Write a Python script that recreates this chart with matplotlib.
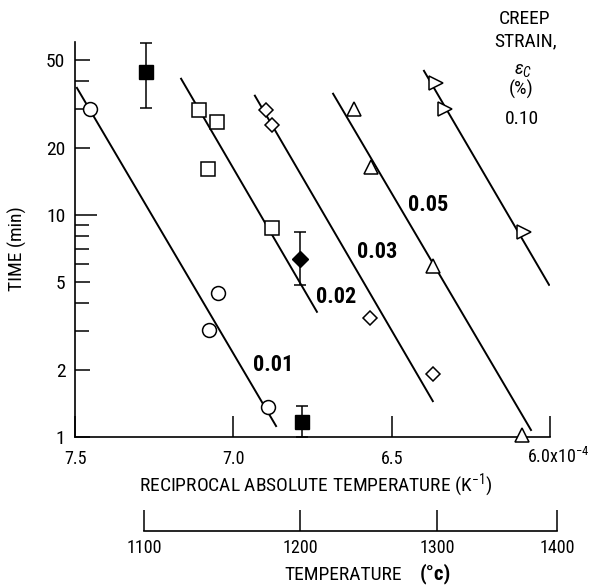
import matplotlib
matplotlib.use("Agg")
import matplotlib.pyplot as plt
import numpy as np
from matplotlib import font_manager
from matplotlib.ticker import NullFormatter, NullLocator

# creep time vs reciprocal absolute temperature (x 1e-4 K^-1), time in min
strain_labels = ["0.01", "0.02", "0.03", "0.05", "0.10"]
line_x = [[7.494, 6.865], [7.165, 6.736], [6.932, 6.370], [6.685, 6.060], [6.398, 6.003]]
line_t = [[37.3, 1.12], [41.0, 3.66], [34.4, 1.45], [35.1, 1.075], [44.5, 4.84]]

circ_x = [7.453, 7.048, 7.077, 6.891]      # 0.01 %
circ_t = [30.0, 4.45, 3.03, 1.365]
sq_x = [7.108, 7.052, 7.080, 6.878]        # 0.02 %
sq_t = [29.7, 26.2, 16.1, 8.74]
dia_x = [6.897, 6.878, 6.569, 6.370]       # 0.03 %
dia_t = [29.7, 25.4, 3.44, 1.92]
tri_x = [6.619, 6.565, 6.370, 6.089]       # 0.05 %
tri_t = [30.0, 16.5, 5.89, 1.02]
rtri_x = [6.360, 6.332, 6.082]             # 0.10 %
rtri_t = [39.3, 30.0, 8.38]

# filled symbols with scatter bands
fsq_x = [7.276, 6.783]
fsq_t = [44.1, 1.17]
fsq_lo = [30.3, 1.0]
fsq_hi = [59.5, 1.38]
fdia_x = [6.790]
fdia_t = [6.34]
fdia_lo = [4.84]
fdia_hi = [8.38]

temp_ticks = [1100, 1200, 1300, 1400]

# pick a condensed sans if there is one
avail = {f.name for f in font_manager.fontManager.ttflist}
fam = 'DejaVu Sans'
for cand in ['Roboto Condensed', 'PT Sans Narrow', 'Archivo Narrow', 'Fira Sans Condensed',
             'Barlow Semi Condensed', 'Liberation Sans Narrow', 'Liberation Sans']:
    if cand in avail:
        fam = cand
        break
plt.rcParams['font.family'] = [fam, 'DejaVu Sans']
plt.rcParams['mathtext.fontset'] = 'custom'
plt.rcParams['mathtext.rm'] = fam
plt.rcParams['mathtext.it'] = fam + ':italic'
plt.rcParams['mathtext.bf'] = fam + ':bold'

W, H = 590, 588
fig = plt.figure(figsize=(W/100, H/100), dpi=100)
ax = fig.add_axes([75/W, 151/H, 475/W, 395/H])

for xs, ts in zip(line_x, line_t):
    ax.plot(xs, ts, color='k', lw=1.4, zorder=2)

mk = dict(ls='none', mfc='white', mec='k', mew=1.1, zorder=3, clip_on=False)
ax.plot(circ_x, circ_t, marker='o', ms=10, **mk)
ax.plot(sq_x, sq_t, marker='s', ms=9.5, **mk)
ax.plot(dia_x, dia_t, marker='D', ms=7.5, **mk)
ax.plot(tri_x, tri_t, marker='^', ms=10, **mk)
ax.plot(rtri_x, rtri_t, marker='>', ms=10, **mk)

ax.errorbar(fsq_x, fsq_t, yerr=[np.subtract(fsq_t, fsq_lo), np.subtract(fsq_hi, fsq_t)],
            fmt='s', ms=10, color='k', elinewidth=1.1, capsize=4, capthick=1.1, zorder=3)
ax.errorbar(fdia_x, fdia_t, yerr=[np.subtract(fdia_t, fdia_lo), np.subtract(fdia_hi, fdia_t)],
            fmt='D', ms=8, color='k', elinewidth=1.1, capsize=4, capthick=1.1, zorder=3)

# strain labels next to lines
lab_pos = [(6.875, 2.11), (6.676, 4.27), (6.546, 6.81), (6.385, 11.1)]
for (lx, ly), s in zip(lab_pos, strain_labels[:4]):
    ax.text(lx, ly, s, fontsize=16, fontweight='bold', ha='center', va='center')

ax.set_yscale('log')
ax.set_ylim(1, 60)
ax.set_xlim(7.5, 6.0)
ax.set_yticks([1, 2, 5, 10, 20, 50])
ax.set_yticklabels(['1', '2', '5', '10', '20', '50'])
ax.set_yticks([3, 4, 6, 7, 8, 9, 30, 40], minor=True)
ax.yaxis.set_minor_formatter(NullFormatter())
ax.set_xticks([7.5, 7.0, 6.5, 6.0])
ax.set_xticklabels(['7.5', '7.0', '6.5', ''])
ax.xaxis.set_minor_locator(NullLocator())
ax.tick_params(axis='y', which='major', direction='in', length=11, width=1.1, labelsize=14, pad=7)
ax.tick_params(axis='y', which='minor', direction='in', length=10, width=1.1)
ax.tick_params(axis='x', direction='in', length=15, width=1.1, labelsize=13, pad=9)
ax.yaxis.get_major_ticks()[3].tick1line.set_markersize(16)
for sp in ['top', 'right']:
    ax.spines[sp].set_visible(False)
for sp in ['left', 'bottom']:
    ax.spines[sp].set_linewidth(1.2)

fig.text(527/W, 1-463/H, "6.0x10$^{-4}$", fontsize=13, ha='left', va='baseline')
fig.text(316/W, 1-485/H, "RECIPROCAL ABSOLUTE TEMPERATURE (K$^{-1}$)", fontsize=14,
         ha='center', va='center')
fig.text(17/W, 1-249/H, "TIME (min)", fontsize=14, rotation=90, ha='center', va='center')


# temperature scale, same 1e4/K mapping as the main axis
def to_x(c):
    return 1e4/(np.asarray(c, dtype=float) + 273.15)


x_end = 5.95
ax2 = fig.add_axes([75/W, (588-531)/H, 475/W*(7.5-x_end)/1.5, 0.001])
ax2.set_xlim(7.5, x_end)
ax2.set_ylim(0, 1)
ax2.patch.set_visible(False)
for sp in ['top', 'right', 'left']:
    ax2.spines[sp].set_visible(False)
ax2.spines['bottom'].set_bounds(to_x(temp_ticks[0]), to_x(temp_ticks[-1]))
ax2.spines['bottom'].set_linewidth(1.2)
ax2.set_yticks([])
ax2.set_xticks(to_x(temp_ticks))
ax2.set_xticklabels([str(t) for t in temp_ticks])
ax2.xaxis.set_minor_locator(NullLocator())
ax2.tick_params(axis='x', direction='in', length=15, width=1.1, labelsize=13, pad=6)

fig.text(402/W, 1-575/H, "TEMPERATURE", fontsize=14, ha='right', va='center')
fig.text(420/W, 1-574/H, "(°c)", fontsize=15, fontweight='bold', ha='left', va='center')

# strain key, top right
fig.text(525/W, 1-19/H, "CREEP", fontsize=14, ha='center', va='center')
fig.text(526/W, 1-41/H, "STRAIN,", fontsize=14, ha='center', va='center')
fig.text(523/W, 1-70/H, r"$\epsilon_C$", fontsize=14, ha='center', va='center')
fig.text(521/W, 1-89/H, "(%)", fontsize=14, ha='center', va='center')
fig.text(522/W, 1-119/H, strain_labels[4], fontsize=14, ha='center', va='center')

fig.savefig("out.png", dpi=100)
